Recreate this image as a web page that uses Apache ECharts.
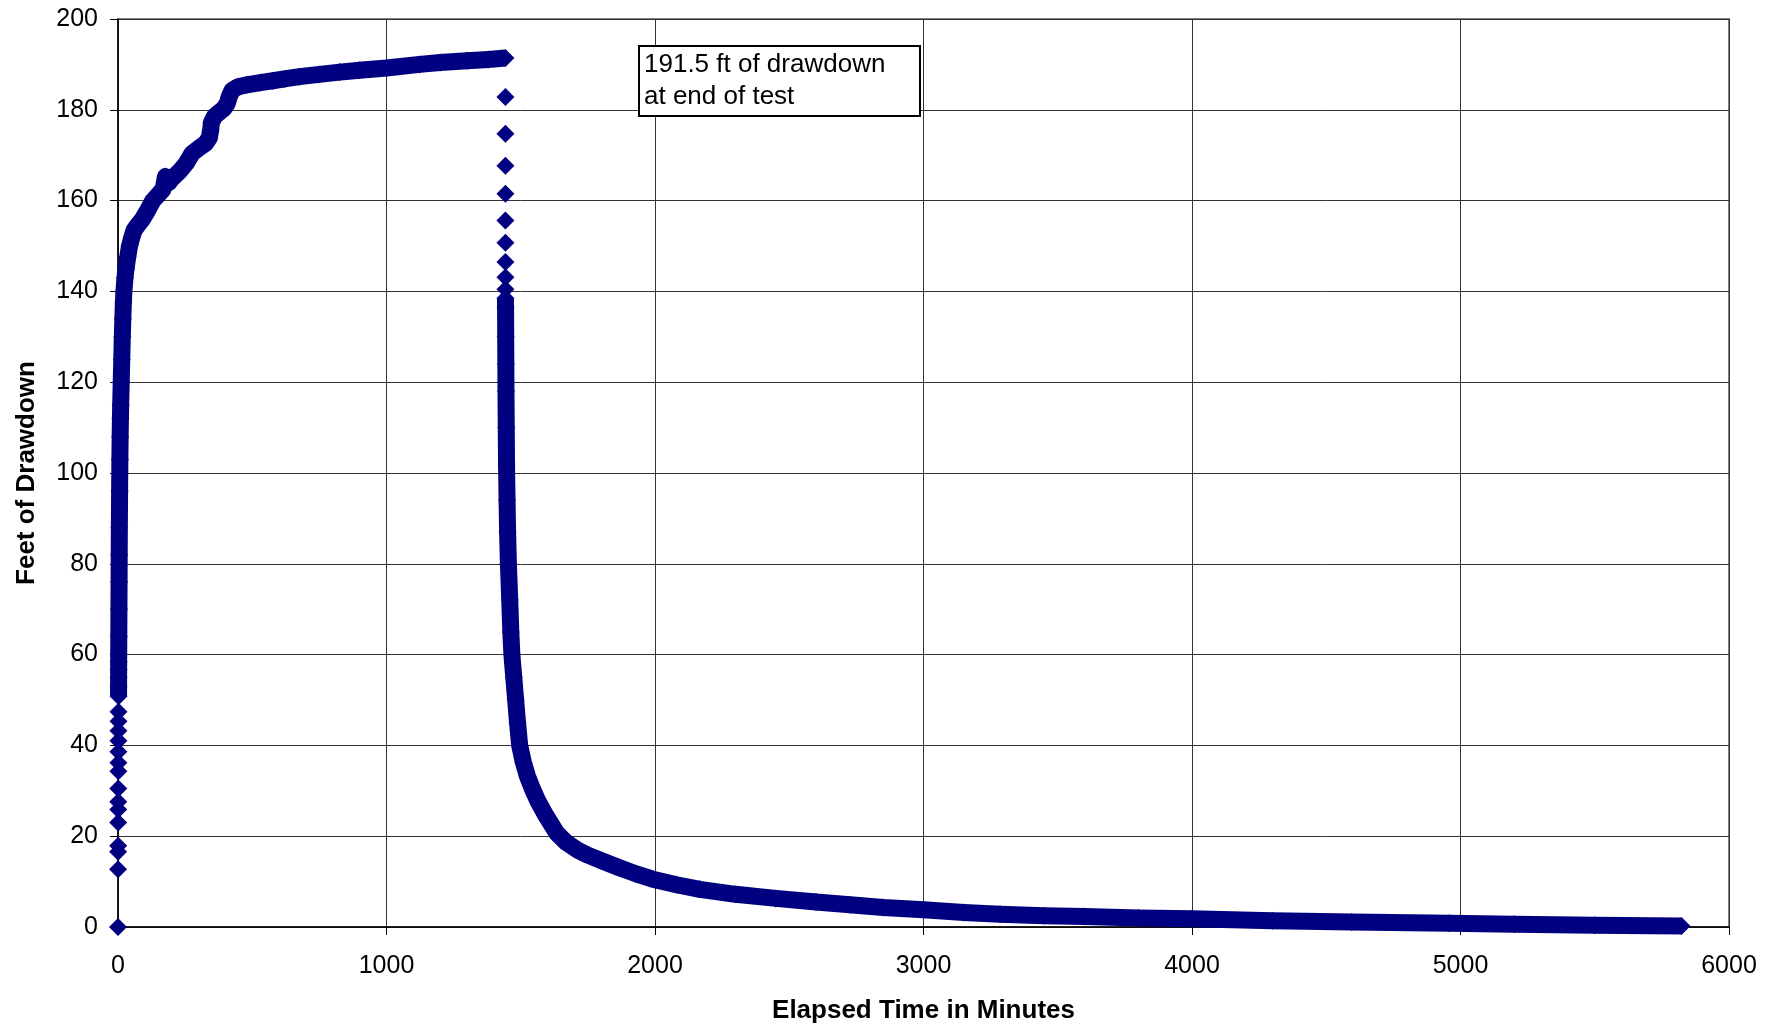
<!DOCTYPE html>
<html>
<head>
<meta charset="utf-8">
<script src="https://cdn.jsdelivr.net/npm/echarts@6/dist/echarts.min.js"></script>
<style>
  html, body { margin: 0; padding: 0; background: #fff; }
  #chart { width: 1780px; height: 1029px; }
</style>
</head>
<body>
<div id="chart"></div>
<script>
// ---- Data ----
// Pumping phase: elapsed time (minutes) and drawdown (ft)
const pumpTime = [
  0, 0.3, 0.5, 0.6, 0.8, 0.9, 1.0, 1.1, 1.3, 1.4, 1.5, 1.6, 1.7, 1.8, 1.9,
  2.1, 2.2, 2.3, 2.4, 2.5, 2.6, 3, 3.5, 4, 4.5, 5, 6, 7, 8, 9, 10, 12, 14, 16, 18, 20, 22,
  26, 30, 36, 43, 52, 60, 75, 90, 110, 130, 150, 168, 177, 190, 200, 230, 254, 276, 300,
  326, 340, 345, 348, 360, 376, 395, 407, 415, 425, 445, 480, 530, 577, 620, 676, 750,
  826, 900, 1000, 1123, 1200, 1300, 1380, 1443
];
const pumpDD = [
  0, 12.7, 16.6, 17.9, 23.0, 25.9, 27.6, 30.5, 34.3, 36.2, 38.6, 41.0, 43.2, 45.3, 47.4,
  50.8, 52.9, 55.0, 56.7, 58.4, 60.1, 64, 70, 76, 82, 88, 96, 103, 108, 112, 115, 120, 125, 130, 134, 137.5, 140,
  143, 145, 147.5, 150, 152, 153.5, 154.7, 155.8, 157.8, 160, 161.3, 162.5, 165.3, 164.0, 164.8, 166.5, 168.2, 170.4, 171.5,
  172.6, 173.8, 175.5, 177.2, 178.6, 179.4, 180.3, 181.4, 183.0, 184.3, 185.0, 185.5, 186.0, 186.4, 186.8, 187.3, 187.8,
  188.3, 188.7, 189.2, 190.0, 190.4, 190.8, 191.1, 191.4
];
// Recovery phase
const recTime = [
  1443, 1443, 1443, 1443, 1443, 1443, 1443, 1443, 1443, 1443,
  1443.5, 1444, 1444.5, 1445, 1446, 1447, 1449, 1451, 1454, 1459, 1463, 1467, 1474, 1481,
  1488, 1496, 1510, 1525, 1545, 1565, 1590, 1612, 1635, 1670, 1710, 1751, 1800, 1865, 1930, 2000,
  2080, 2167, 2300, 2450, 2600, 2726, 2850, 3000, 3150, 3285, 3450, 3600, 3800, 4000,
  4300, 4595, 4958, 5200, 5500, 5823
];
const recDD = [
  182.8, 174.7, 167.7, 161.5, 155.6, 150.7, 146.5, 143.1, 140.5, 138.5,
  136.5, 130, 124, 118, 110, 102, 94, 87, 80, 72, 65, 60, 55, 50,
  45, 40, 36.2, 33.2, 30.2, 27.6, 24.9, 22.8, 20.6, 18.6, 17.0, 15.8, 14.6, 13.1, 11.7, 10.4,
  9.3, 8.3, 7.2, 6.3, 5.5, 4.9, 4.3, 3.8, 3.2, 2.8, 2.5, 2.3, 2.0, 1.8,
  1.4, 1.1, 0.8, 0.6, 0.4, 0.2
];
// first index where the markers merge into a continuous band
const pumpBandFrom = 15;
const recBandFrom = 9;

const xTicks = [0, 1000, 2000, 3000, 4000, 5000, 6000];
const yTicks = [0, 20, 40, 60, 80, 100, 120, 140, 160, 180, 200];
const noteLines = ['191.5 ft of drawdown', 'at end of test'];

// ---- Build ----
const zip = (a, b) => a.map((v, i) => [v, b[i]]);
const pumpPts = zip(pumpTime, pumpDD);
const recPts = zip(recTime, recDD);
const NAVY = '#000080';
const FONT = 'Liberation Sans, Arial, sans-serif';

const chart = echarts.init(document.getElementById('chart'), null, { renderer: 'canvas' });

function bandSeries(pts) {
  return {
    type: 'line', data: pts, showSymbol: false, clip: false, silent: true, z: 2,
    lineStyle: { color: NAVY, width: 17, join: 'round', cap: 'butt', opacity: 1 }
  };
}
function pointSeries(pts) {
  return {
    type: 'scatter', data: pts, symbol: 'diamond', symbolSize: 18, clip: false, z: 3,
    itemStyle: { color: NAVY, opacity: 1 }
  };
}

chart.setOption({
  animation: false,
  backgroundColor: '#fff',
  grid: {
    left: 118, right: 51, top: 19, bottom: 102,
    show: true, borderColor: '#808080', borderWidth: 2, backgroundColor: '#fff'
  },
  xAxis: {
    type: 'value', min: xTicks[0], max: xTicks[xTicks.length - 1], interval: 1000,
    name: 'Elapsed Time in Minutes', nameLocation: 'middle', nameGap: 71,
    nameTextStyle: { fontFamily: FONT, fontSize: 26, fontWeight: 'bold', color: '#000' },
    axisLine: { show: true, onZero: false, lineStyle: { color: '#000', width: 1.5 } },
    axisTick: { show: true, length: 8, lineStyle: { color: '#000', width: 1 } },
    axisLabel: { fontFamily: FONT, fontSize: 25, color: '#000', margin: 27, formatter: v => String(v) },
    splitLine: { show: true, lineStyle: { color: '#333', width: 1 } }
  },
  yAxis: {
    type: 'value', min: yTicks[0], max: yTicks[yTicks.length - 1], interval: 20,
    name: 'Feet of Drawdown', nameLocation: 'middle', nameGap: 78,
    nameTextStyle: { fontFamily: FONT, fontSize: 26, fontWeight: 'bold', color: '#000' },
    axisLine: { show: true, onZero: false, lineStyle: { color: '#000', width: 1.5 } },
    axisTick: { show: true, length: 8, lineStyle: { color: '#000', width: 1 } },
    axisLabel: { fontFamily: FONT, fontSize: 25, color: '#000', margin: 20, formatter: v => String(v) },
    splitLine: { show: true, lineStyle: { color: '#333', width: 1 } }
  },
  series: [
    bandSeries(pumpPts.slice(pumpBandFrom)),
    bandSeries(recPts.slice(recBandFrom)),
    pointSeries(pumpPts),
    pointSeries(recPts)
  ],
  graphic: [
    {
      type: 'rect', z: 10,
      shape: { x: 639, y: 46, width: 281, height: 70 },
      style: { fill: '#fff', stroke: '#000', lineWidth: 2 }
    },
    {
      type: 'text', z: 11, x: 644, y: 49,
      style: {
        text: noteLines.join('\n'), fill: '#000',
        fontFamily: FONT, fontSize: 26, lineHeight: 32,
        align: 'left', verticalAlign: 'top'
      }
    }
  ]
});
</script>
</body>
</html>
